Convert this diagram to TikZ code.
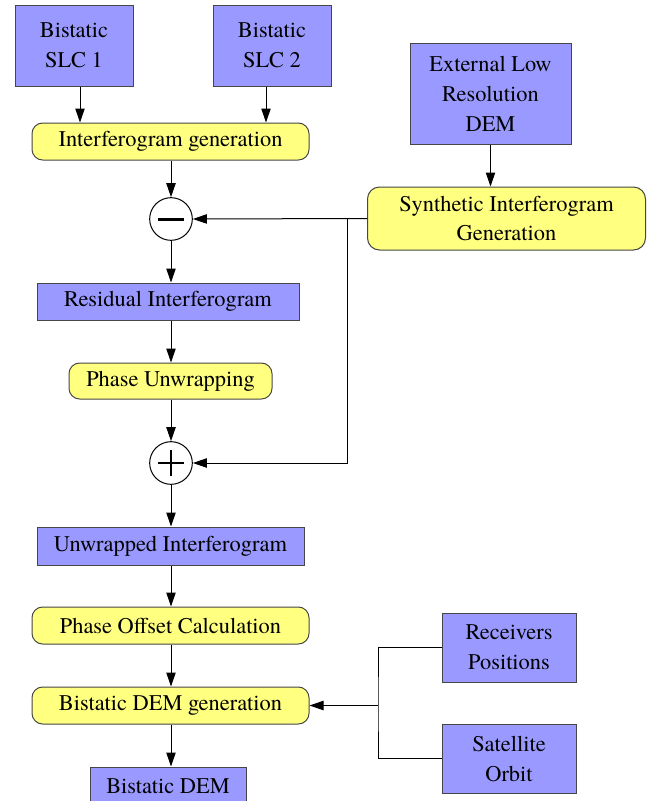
\documentclass[tikz,border=0pt]{standalone}
\usepackage{fontspec}
\setmainfont{texgyretermes}[Extension=.otf, UprightFont=*-regular, BoldFont=*-bold]
\usetikzlibrary{arrows.meta}
\definecolor{boxblue}{RGB}{153,153,255}
\definecolor{boxyellow}{RGB}{255,255,128}
\definecolor{edge}{RGB}{70,70,70}
\tikzset{
  base/.style={draw=edge, line width=0.75pt, inner sep=0pt, align=center,
    font=\fontsize{16.8pt}{22.5pt}\selectfont},
  bluebox/.style={base, fill=boxblue, rectangle},
  yelbox/.style={base, fill=boxyellow, rectangle, rounded corners=8pt},
  opcircle/.style={draw=black, line width=0.75pt, fill=white, circle, minimum size=32pt, inner sep=0pt},
  arr/.style={draw=black, line width=0.75pt, -{Triangle[length=10.5pt,width=7pt]}},
  ln/.style={draw=black, line width=0.75pt}
}
\begin{document}
\begin{tikzpicture}[x=0.75pt,y=-0.75pt]
\useasboundingbox (0,0) rectangle (650,801);
\clip (0,0) rectangle (650,801);
\fill[white] (0,0) rectangle (650,801);
% nodes
\node[bluebox, minimum width=88.5pt, minimum height=60.75pt] (slc1) at (74,45.5) {Bistatic\\SLC 1};
\node[bluebox, minimum width=88.5pt, minimum height=60.75pt] (slc2) at (272,45.5) {Bistatic\\SLC 2};
\node[yelbox, minimum width=207.75pt, minimum height=27.75pt] (igen) at (170.5,141.5) {Interferogram generation};
\node[opcircle] (minus) at (171,219) {};
\node[bluebox, minimum width=120.75pt, minimum height=75.75pt] (extdem) at (490.5,93.5) {External Low\\Resolution\\DEM};
\node[yelbox, rounded corners=9pt, minimum width=208.5pt, minimum height=47.25pt] (synth) at (506.5,218.5) {Synthetic Interferogram\\Generation};
\node[bluebox, minimum width=196.5pt, minimum height=27.75pt] (resid) at (168,301.5) {Residual Interferogram};
\node[yelbox, minimum width=152.25pt, minimum height=27pt] (unwrap) at (170.5,381) {Phase Unwrapping};
\node[opcircle] (plus) at (171,463) {};
\node[bluebox, minimum width=200.25pt, minimum height=28.5pt] (unwint) at (170.5,546) {Unwrapped Interferogram};
\node[yelbox, minimum width=207.75pt, minimum height=27.75pt] (poc) at (170.5,625.5) {Phase Offset Calculation};
\node[yelbox, minimum width=207.75pt, minimum height=27.75pt] (demgen) at (170.5,705.5) {Bistatic DEM generation};
\node[bluebox, minimum width=117pt, minimum height=28.5pt] (bdem) at (168,786) {Bistatic DEM};
\node[bluebox, minimum width=100.5pt, minimum height=51.75pt] (recv) at (509,647.5) {Receivers\\Positions};
\node[bluebox, minimum width=100.5pt, minimum height=51.75pt] (sat) at (509,758.5) {Satellite\\Orbit};
% operator signs
\draw[line width=2.25pt] ([xshift=-10pt]minus.center) -- ([xshift=10pt]minus.center);
\draw[line width=1pt] ([xshift=-9.75pt]plus.center) -- ([xshift=9.75pt]plus.center);
\draw[line width=1pt] ([yshift=-9.75pt]plus.center) -- ([yshift=9.75pt]plus.center);
% junction coordinates
\coordinate (tj) at (347,218.5);
\coordinate (br) at (378,705.5);
% connectors
\draw[arr] ([xshift=4.5pt]slc1.south) -- ([xshift=4.5pt]slc1.south |- igen.north);
\draw[arr] ([xshift=-4.5pt]slc2.south) -- ([xshift=-4.5pt]slc2.south |- igen.north);
\draw[arr] (minus |- igen.south) -- (minus.north);
\draw[arr] (extdem.south) -- (extdem.south |- synth.north);
\draw[arr] (synth.west) -- (minus.east);
\draw[arr] (tj) |- (plus.east);
\draw[arr] (minus.south) -- (minus |- resid.north);
\draw[arr] (minus |- resid.south) -- (minus |- unwrap.north);
\draw[arr] (plus |- unwrap.south) -- (plus.north);
\draw[arr] (plus.south) -- (plus |- unwint.north);
\draw[arr] (plus |- unwint.south) -- (plus |- poc.north);
\draw[arr] (plus |- poc.south) -- (plus |- demgen.north);
\draw[arr] (plus |- demgen.south) -- (plus |- bdem.north);
\draw[ln] (recv.west) -| (br) |- (sat.west);
\draw[arr] (br) -- (demgen.east);
\end{tikzpicture}
\end{document}
